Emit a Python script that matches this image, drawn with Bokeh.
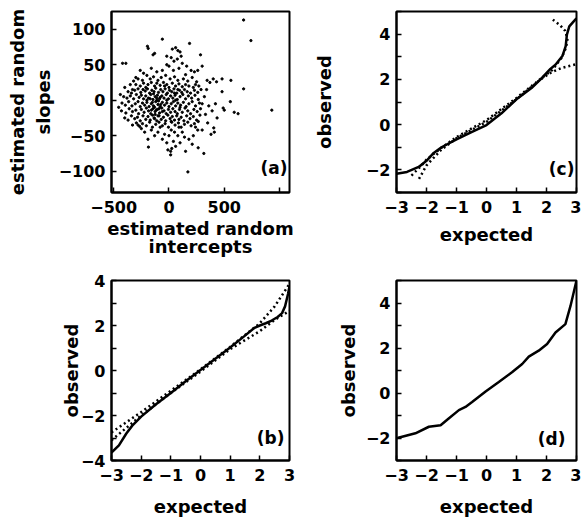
from bokeh.plotting import figure
from bokeh.layouts import column, row
from bokeh.models import FixedTicker, Range1d, Label
from bokeh.embed import file_html
from bokeh.resources import INLINE

# ---------------- data ----------------
# panel (a): estimated random intercepts (x) and slopes (y)
intercepts = [
    -60, -195, -188, -144, -130, 30, 60, 80, 100, 186,
    285, -420, -390, 20, 45, 75, 120, -20, 0, 90,
    160, 300, -230, -260, -300, -110, -60, 40, 200, 230,
    260, -160, 110, -20, 150,
    345, 370, 400, 430, 480, 560, 675, 480, 490, 500,
    555, 590, 625, 435, 405, 410, 390, 360, 330, 350,
    380, 315, 741, 675, 930, 320, 340, 300, 420,
    171, 15, 15, 25, -186, -190, 264, 210, -130, -100,
    -60, -20, 40, 80, 120, 180, 220, 260, -40, 0,
    60, 100, 140, -160, -220, -250, -280, 300, -80, 20,
    50, 150, -10, 90, 240,
    -280, -240, -200, -170, -140, -100, -70, -30, 10, 50,
    80, 130, 170, 210, 250, -320, -350,
    -300, -260, -230, -210, -190, -160, -130, -110, -80, -50,
    -20, 0, 30, 60, 90, 120, 150, 180, 220, 240,
    270, -400, -330,
    -370, -340, -310, -280, -255, -235, -215, -195, -175, -155,
    -135, -120, -95, -75, -55, -35, -15, 5, 25, 45,
    70, 95, 115, 140, 165, 195, 230, 260, 290,
    -440, -410, -380, -350, -320, -295, -270, -250, -230, -210,
    -185, -165, -145, -125, -105, -85, -65, -45, -25, -5,
    15, 35, 55, 75, 100, 125, 150, 175, 205, 235,
    265, -200, -110, -20, 60,
    -455, -425, -395, -365, -335, -305, -280, -260, -240, -220,
    -200, -180, -160, -140, -120, -100, -80, -60, -40, -20,
    0, 20, 40, 60, 80, 105, 130, 155, 180, 210,
    240, 275,
    -430, -390, -360, -330, -300, -275, -250, -225, -205, -185,
    -165, -145, -125, -105, -85, -65, -45, -25, -5, 15,
    35, 55, 75, 95, 120, 145, 170, 195, 225, 255,
    285,
    -400, -370, -340, -310, -285, -260, -235, -210, -190, -170,
    -150, -130, -110, -90, -70, -50, -30, -10, 10, 30,
    50, 70, 90, 110, 135, 160, 190, 220, 250, 280,
    -330, -295, -265, -240, -205, -175, -150, -120, -90, -60,
    -35, -5, 25, 55, 85, 110, 140, 170, 200, 230,
    265,
    -150, -130, -115, -95, -140, -75, -160, -110, -90, -125,
    -170, -60, -135, -100, -80, 50, 80, 100, 20, -40,
]
slopes = [
    86, 76, 73, 64, 66, 72, 74, 70, 68, 80,
    64, 52, 52, 60, 55, 58, 52, 50, 48, 45,
    48, 48, 38, 42, 32, 40, 42, 42, 42, 40,
    42, 45, 62, 62, 36,
    28, 25, 30, 26, 30, 28, 16, 12, -11, -14,
    -2, -17, -19, -25, -39, -45, -15, -8, -20, -32,
    -48, -75, 84, 113, -14, 5, 15, -5, -5,
    -101, -72, -77, -68, -66, -55, -67, -62, -50, -45,
    -55, -60, -58, -50, -45, -55, -50, -42, -48, -50,
    -65, -60, -52, -42, -45, -40, -35, -42, -38, -42,
    -45, -72, -70, -38, -38,
    30, 28, 35, 30, 33, 28, 32, 35, 30, 33,
    28, 30, 27, 32, 26, 27, 22,
    22, 20, 24, 18, 22, 25, 20, 24, 21, 25,
    22, 18, 24, 20, 23, 19, 22, 20, 18, 22,
    20, 18, 15,
    12, 10, 14, 16, 11, 15, 13, 16, 10, 14,
    12, 17, 11, 15, 12, 16, 10, 14, 12, 16,
    10, 14, 11, 15, 12, 10, 14, 11, 15,
    8, 5, 3, 6, 2, 8, 4, 7, 2, 6,
    3, 8, 1, 5, 7, 2, 6, 3, 8, 2,
    6, 3, 7, 1, 5, 8, 2, 6, 3, 7,
    1, 0, 0, 0, 0,
    -10, -4, -7, -2, -8, -5, -2, -9, -4, -7,
    -3, -9, -5, -8, -2, -6, -9, -3, -7, -4,
    -9, -5, -2, -8, -4, -7, -3, -9, -5, -2,
    -8, -4,
    -15, -18, -12, -16, -14, -19, -13, -17, -11, -15,
    -19, -12, -16, -13, -18, -11, -15, -19, -13, -17,
    -12, -16, -19, -13, -17, -11, -15, -19, -13, -16,
    -12,
    -25, -28, -22, -26, -24, -29, -22, -27, -23, -28,
    -21, -26, -29, -22, -27, -24, -29, -21, -26, -23,
    -28, -22, -27, -24, -29, -22, -26, -23, -28, -21,
    -35, -32, -37, -33, -36, -31, -38, -34, -31, -36,
    -33, -38, -31, -35, -32, -38, -34, -31, -36, -33,
    -30,
    -3, -10, -14, -1, 9, -6, -14, 3, -12, -20,
    2, -16, -25, -22, 4, 10, 15, -10, -30, 20,
]

# panel (b)
b_expected = [-3.0, -2.75, -2.5, -2.3, -2.0, -1.5, -1.0, -0.5, 0.0, 0.5, 1.0,
              1.5, 1.8, 2.0, 2.2, 2.4, 2.6, 2.75, 2.85, 2.95, 3.0]
b_observed = [-3.65, -3.33, -2.8, -2.45, -2.05, -1.5, -1.0, -0.48, 0.02, 0.52, 1.02,
              1.55, 1.88, 2.0, 2.1, 2.22, 2.38, 2.55, 2.85, 3.4, 3.75]
b_band_x = [-3.0, -2.5, -2.0, -1.0, 0.0, 1.0, 2.0, 2.5, 3.0]
b_band_upper = [-2.75, -2.3, -1.85, -0.9, 0.05, 1.05, 2.1, 2.85, 3.85]
b_band_lower = [-3.1, -2.55, -2.0, -1.0, -0.05, 0.95, 1.75, 2.25, 2.65]

# panel (c)
c_expected = [-3.0, -2.65, -2.26, -2.0, -1.76, -1.5, -1.0, -0.5, 0.0, 0.5, 1.0,
              1.5, 1.81, 2.13, 2.3, 2.53, 2.64, 2.68, 2.76, 2.9, 3.0]
c_observed = [-2.17, -2.09, -1.87, -1.6, -1.25, -1.0, -0.65, -0.33, -0.02, 0.5, 1.12,
              1.62, 2.01, 2.46, 2.65, 3.03, 3.47, 3.98, 4.34, 4.55, 4.7]
c_band1_x = [-2.5, -2.2, -2.0, -1.5, -1.0, 0.0, 1.0, 1.8, 2.2, 2.5, 2.65, 2.7, 2.62, 2.45, 2.2]
c_band1_y = [-2.25, -1.85, -1.55, -1.02, -0.55, 0.2, 1.18, 2.02, 2.42, 2.95, 3.4, 3.8, 4.15, 4.4, 4.65]
c_band2_x = [-2.25, -2.0, -1.5, -1.0, 0.0, 1.0, 1.8, 2.15, 2.5, 3.0]
c_band2_y = [-2.4, -1.8, -1.1, -0.6, 0.12, 1.12, 2.0, 2.3, 2.5, 2.67]

# panel (d)
d_expected = [-3.0, -2.94, -2.37, -1.92, -1.53, -1.26, -0.92, -0.7, -0.48, -0.03, 0.41,
              0.86, 1.19, 1.41, 1.74, 2.02, 2.3, 2.63, 2.8, 3.0]
d_observed = [-2.0, -1.99, -1.79, -1.5, -1.43, -1.13, -0.76, -0.62, -0.4, 0.07, 0.49,
              0.93, 1.29, 1.62, 1.88, 2.18, 2.69, 3.06, 3.87, 5.0]

# ticks
a_xticks = [-500, 0, 500, 1000]
a_xlabels = ["−500", "0", "500", ""]
a_yticks = [-100, -50, 0, 50, 100]
a_ylabels = ["−100", "−50", "0", "50", "100"]
qq_xticks = [-3, -2, -1, 0, 1, 2, 3]
qq_xlabels = ["−3", "−2", "−1", "0", "1", "2", "3"]
b_yticks = [-4, -3, -2, -1, 0, 1, 2, 3, 4]
b_ylabels = ["−4", "", "−2", "", "0", "", "2", "", "4"]
cd_yticks = [-3, -2, -1, 0, 1, 2, 3, 4, 5]
cd_ylabels = ["", "−2", "", "0", "", "2", "", "4", ""]

FONT = "DejaVu Sans"


def make_fig(fw, fh, left, right, top, bottom, xr, yr, xt, xl, yt, yl,
             xlabel, ylabel, xstand, ystand, xlh=1.2):
    p = figure(frame_width=fw, frame_height=fh, output_backend="svg", toolbar_location=None,
               x_range=Range1d(*xr), y_range=Range1d(*yr),
               min_border_left=left, min_border_right=right,
               min_border_top=top, min_border_bottom=bottom)
    p.xgrid.visible = False
    p.ygrid.visible = False
    p.outline_line_color = "black"
    p.outline_line_width = 2
    p.outline_line_alpha = 1
    p.background_fill_color = "white"
    p.border_fill_color = "white"
    for ax, ticks, labels, lab, st in ((p.xaxis[0], xt, xl, xlabel, xstand),
                                       (p.yaxis[0], yt, yl, ylabel, ystand)):
        ax.ticker = FixedTicker(ticks=ticks)
        ax.major_label_overrides = {t: s for t, s in zip(ticks, labels)}
        ax.axis_line_width = 2
        ax.axis_line_color = "black"
        ax.major_tick_in = 5
        ax.major_tick_out = 0
        ax.major_tick_line_width = 1.5
        ax.minor_tick_in = 0
        ax.minor_tick_out = 0
        ax.major_label_text_font = FONT
        ax.major_label_text_font_style = "bold"
        ax.major_label_text_font_size = "16px"
        ax.major_label_text_color = "black"
        ax.axis_label = lab
        ax.axis_label_text_font = FONT
        ax.axis_label_text_font_style = "bold"
        ax.axis_label_text_font_size = "18px"
        ax.axis_label_text_color = "black"
        ax.axis_label_standoff = st
    p.xaxis[0].axis_label_text_line_height = xlh
    p.xaxis[0].major_label_standoff = 8
    p.yaxis[0].major_label_standoff = 6
    return p


def panel_label(p, x, y, txt):
    p.add_layout(Label(x=x, y=y, text=txt, text_align="right", text_baseline="middle",
                       text_font=FONT, text_font_style="bold", text_font_size="17px",
                       text_color="black"))


# (a)
fa = make_fig(178, 181, 111, 9, 11, 65, (-520, 1090), (-130, 125),
              a_xticks, a_xlabels, a_yticks, a_ylabels,
              "estimated random\nintercepts", "estimated random\nslopes", 2, 2, xlh=0.9)
fa.scatter(intercepts, slopes, size=2.3, color="black", marker="circle")
panel_label(fa, 1071, -95.5, "(a)")

# (c)
fc = make_fig(180, 181, 98, 5, 11, 65, (-3, 3), (-3, 5),
              qq_xticks, qq_xlabels, cd_yticks, cd_ylabels,
              "expected", "observed", 8, 28)
fc.line(c_band1_x, c_band1_y, color="black", line_width=2.5, line_dash="2 3")
fc.line(c_band2_x, c_band2_y, color="black", line_width=2.5, line_dash="2 3")
fc.line(c_expected, c_observed, color="black", line_width=2.5)
panel_label(fc, 2.93, -1.96, "(c)")

# (b)
fb = make_fig(178, 180, 111, 9, 20, 62, (-3, 3), (-4, 4),
              qq_xticks, qq_xlabels, b_yticks, b_ylabels,
              "expected", "observed", 12, -4)
fb.line(b_band_x, b_band_upper, color="black", line_width=2.5, line_dash="2 3")
fb.line(b_band_x, b_band_lower, color="black", line_width=2.5, line_dash="2 3")
fb.line(b_expected, b_observed, color="black", line_width=2.5)
panel_label(fb, 2.83, -2.98, "(b)")

# (d)
fd = make_fig(180, 180, 98, 5, 20, 62, (-3, 3), (-3, 5),
              qq_xticks, qq_xlabels, cd_yticks, cd_ylabels,
              "expected", "observed", 12, 4)
fd.line(d_expected, d_observed, color="black", line_width=2.5)
panel_label(fd, 2.63, -2.04, "(d)")

layout = column(row(fa, fc), row(fb, fd))
open("out.html", "w").write(file_html(layout, INLINE))
